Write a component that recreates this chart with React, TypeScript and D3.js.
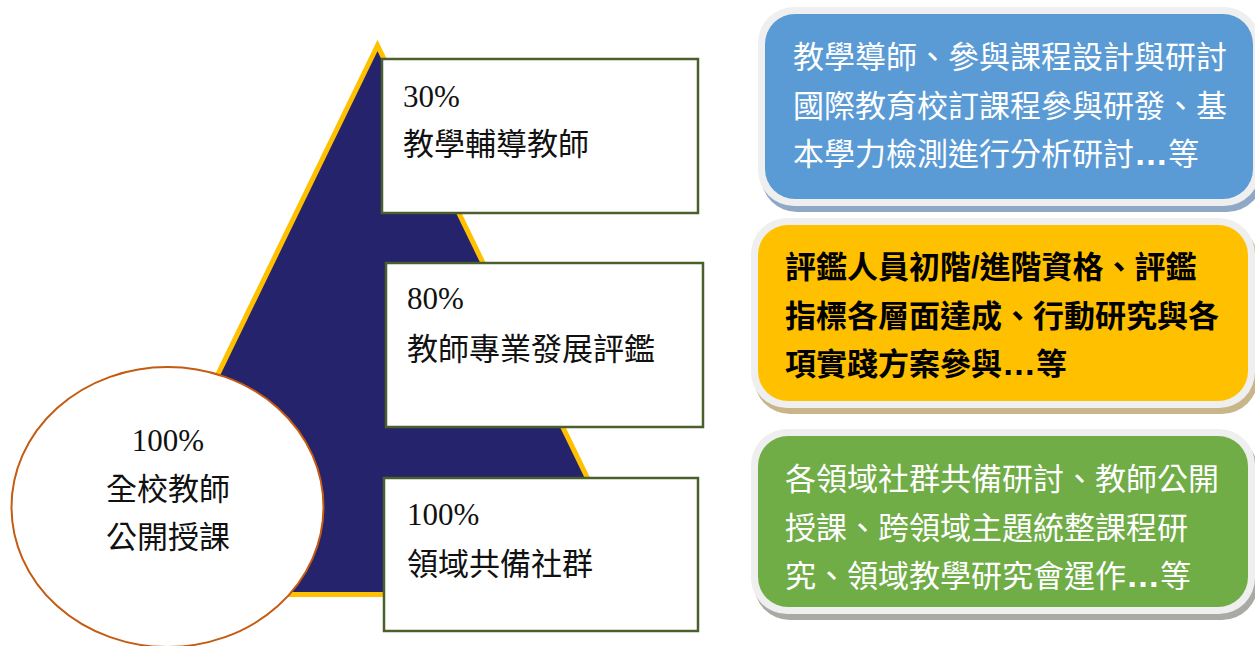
import * as d3 from "d3";
import React from "react";

// left pyramid: tier percentages and names
const tierPercents = ["30%", "80%", "100%"];
const tierNames = ["教學輔導教師", "教師專業發展評鑑", "領域共備社群"];

// base ellipse label
const baseLines = ["100%", "全校教師", "公開授課"];

// right description boxes
const detailLinesA = ["教學導師、參與課程設計與研討", "國際教育校訂課程參與研發、基", "本學力檢測進行分析研討…等"];
const detailLinesB = ["評鑑人員初階/進階資格、評鑑", "指標各層面達成、行動研究與各", "項實踐方案參與…等"];
const detailLinesC = ["各領域社群共備研討、教師公開", "授課、跨領域主題統整課程研", "究、領域教學研究會運作…等"];
const detailLines = [detailLinesA, detailLinesB, detailLinesC];
const detailFills = ["#5B9BD5", "#FFC000", "#70AD47"];
const detailInk = ["#ffffff", "#000000", "#ffffff"];
const detailShadow = ["#8FA8C6", "#C8B68A", "#A8AAA4"];

const W = 1255;
const H = 646;

const serif = "'Liberation Serif', 'Noto Sans CJK TC', serif";
const sans = "'Liberation Sans', 'Noto Sans CJK TC', sans-serif";

// layout of tier boxes (x, y, w, h) and text origin
const tierBoxes = [
	{ x: 382, y: 59, w: 316, h: 154, tx: 403, b1: 107, b2: 155 },
	{ x: 386, y: 263, w: 317, h: 164, tx: 407, b1: 309, b2: 360 },
	{ x: 384, y: 478, w: 314, h: 153, tx: 407, b1: 525, b2: 575 },
];

const detailBoxes = [
	{ x: 765, y: 14, w: 488, h: 185, tx: 793, base: 68 },
	{ x: 758, y: 225, w: 490, h: 176, tx: 785, base: 278 },
	{ x: 758, y: 436, w: 490, h: 171, tx: 785, base: 490 },
];

// the trailing ellipsis is set bolder, like the source
function renderLine(t: string) {
	const k = t.indexOf("…");
	if (k < 0) return t;
	return (
		<>
			{t.slice(0, k)}
			<tspan fontWeight={700} fontSize={34}>
				…
			</tspan>
			{t.slice(k + 1)}
		</>
	);
}

export default function App() {
	// triangle from apex to base via a d3 line
	const tri: [number, number][] = [
		[377.5, 45.5],
		[111, 594.5],
		[644, 594.5],
	];
	const triPath = d3.line().curve(d3.curveLinearClosed)(tri) || "";

	const lineY = d3.scaleLinear().domain([0, 1]).range([0, 48.5]);

	return (
		<svg
			width={W}
			height={H}
			viewBox={`0 0 ${W} ${H}`}
			style={{ position: "absolute", left: 0, top: 0, background: "#fff" }}
		>
			<path d={triPath} fill="#25236C" stroke="#FFC000" strokeWidth={5} strokeLinejoin="miter" />

			<ellipse cx={167.5} cy={507} rx={156} ry={140} fill="#fff" stroke="#C55A11" strokeWidth={2} />
			{baseLines.map((t, i) => (
				<text
					key={t}
					x={168}
					y={[451, 500, 548][i]}
					textAnchor="middle"
					fontFamily={serif}
					fontSize={31}
					fill="#111"
				>
					{t}
				</text>
			))}

			{tierBoxes.map((b, i) => (
				<g key={tierNames[i]}>
					<rect x={b.x} y={b.y} width={b.w} height={b.h} fill="#fff" stroke="#4A5F2C" strokeWidth={2.5} />
					<text x={b.tx} y={b.b1} fontFamily={serif} fontSize={31} fill="#111">
						{tierPercents[i]}
					</text>
					<text x={b.tx} y={b.b2} fontFamily={serif} fontSize={31} fill="#111">
						{tierNames[i]}
					</text>
				</g>
			))}

			{detailBoxes.map((b, i) => (
				<g key={detailFills[i]}>
					<rect
						x={b.x - 7 + 3}
						y={b.y - 7 + 6}
						width={b.w + 14}
						height={b.h + 14}
						rx={36}
						fill={detailShadow[i]}
					/>
					<rect x={b.x - 7} y={b.y - 7} width={b.w + 14} height={b.h + 14} rx={36} fill="#EFEFEF" />
					<rect x={b.x} y={b.y} width={b.w} height={b.h} rx={30} fill={detailFills[i]} />
					{detailLines[i].map((t, j) => (
						<text
							key={t}
							x={b.tx}
							y={b.base + lineY(j)}
							fontFamily={sans}
							fontSize={31}
							fontWeight={i === 1 ? 700 : 400}
							fill={detailInk[i]}
						>
							{renderLine(t)}
						</text>
					))}
				</g>
			))}
		</svg>
	);
}
